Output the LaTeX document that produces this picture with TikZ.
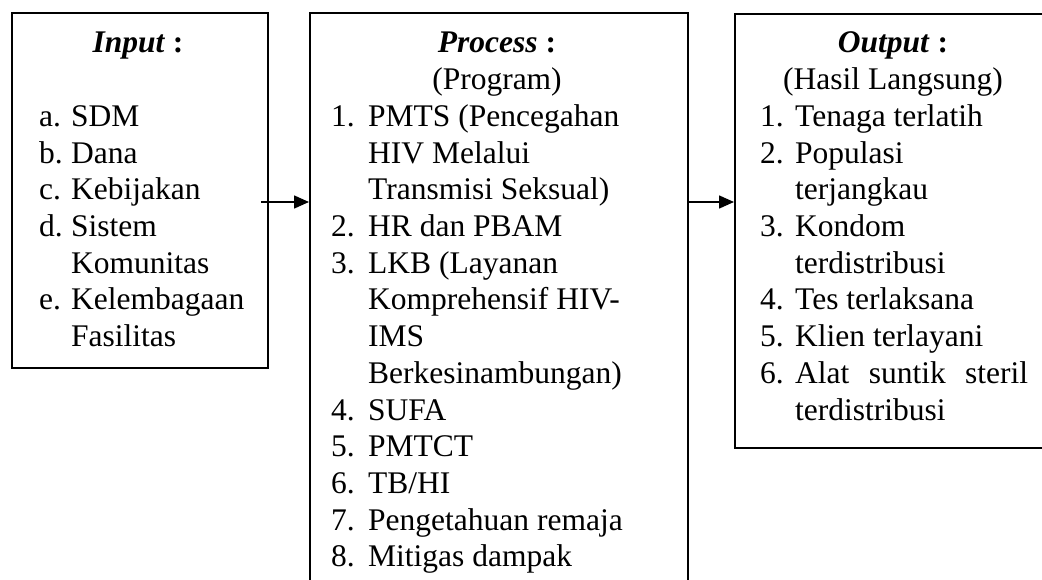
\documentclass[tikz,border=0pt]{standalone}
\usepackage{fontspec}
\setmainfont{Liberation Serif}
\usetikzlibrary{arrows.meta}
\begin{document}
\begin{tikzpicture}[x=1pt,y=-1pt,
  box/.style={draw, line width=1.6pt, inner sep=0pt, anchor=north west},
  txt/.style={anchor=base west, inner sep=0pt, font=\fontsize{31.5}{36.7}\selectfont},
  ttl/.style={anchor=base, inner sep=0pt, font=\fontsize{31.5}{36.7}\selectfont},
  arr/.style={line width=1.6pt, -{Triangle[length=15pt,width=13pt]}}]
\path[use as bounding box] (0,0) rectangle (1042,580);
\clip (0,0) rectangle (1042,580);
% boxes
\node[box, minimum width=256pt, minimum height=355pt] (inp) at (11,12) {};
\node[box, minimum width=378pt, minimum height=620pt] (proc) at (309,12.5) {};
\node[box, minimum width=307.5pt, minimum height=434pt] (outp) at (734,13) {};
% titles
\node[ttl] (tin) at (138,53) {\textbf{\textit{Input}} \textbf{:}};
\node[ttl] (tproc) at (497,53) {\textbf{\textit{Process}} \textbf{:}};
\node[ttl] (sproc) at (497,89.7) {(Program)};
\node[ttl] (tout) at (893,53) {\textbf{\textit{Output}} \textbf{:}};
\node[ttl] (sout) at (893,89.7) {(Hasil Langsung)};
% input list
\foreach \lab/\k in {a./2, b./3, c./4, d./5, e./7}
  \node[txt] (il\k) at (39,{53+36.7*\k}) {\lab};
\foreach \t [count=\k from 2] in {SDM, Dana, Kebijakan, Sistem, Komunitas, Kelembagaan, Fasilitas}
  \node[txt] (it\k) at (71,{53+36.7*\k}) {\t};
% process list
\foreach \lab/\k in {1./2, 2./5, 3./6, 4./10, 5./11, 6./12, 7./13, 8./14}
  \node[txt] (pl\k) at (331,{53+36.7*\k}) {\lab};
\foreach \t [count=\k from 2] in {PMTS (Pencegahan, HIV Melalui, Transmisi Seksual), HR dan PBAM, LKB (Layanan, Komprehensif HIV-, IMS, Berkesinambungan), SUFA, PMTCT, TB/HI, Pengetahuan remaja, Mitigas dampak}
  \node[txt] (pt\k) at (368,{53+36.7*\k}) {\t};
% output list
\foreach \lab/\k in {1./2, 2./3, 3./5, 4./7, 5./8, 6./9}
  \node[txt] (ol\k) at (760,{53+36.7*\k}) {\lab};
\foreach \t [count=\k from 2] in {Tenaga terlatih, Populasi, terjangkau, Kondom, terdistribusi, Tes terlaksana, Klien terlayani}
  \node[txt] (ot\k) at (795,{53+36.7*\k}) {\t};
\node[txt] (ot9) at (795,{53+36.7*9}) {\makebox[233pt][s]{Alat suntik steril}};
\node[txt] (ot10) at (795,{53+36.7*10}) {terdistribusi};
% connectors
\coordinate (a1s) at (261,202);
\draw[arr] (a1s) -- (a1s -| proc.west);
\draw[arr] (proc.east |- a1s) -- (a1s -| outp.west);
\end{tikzpicture}
\end{document}
